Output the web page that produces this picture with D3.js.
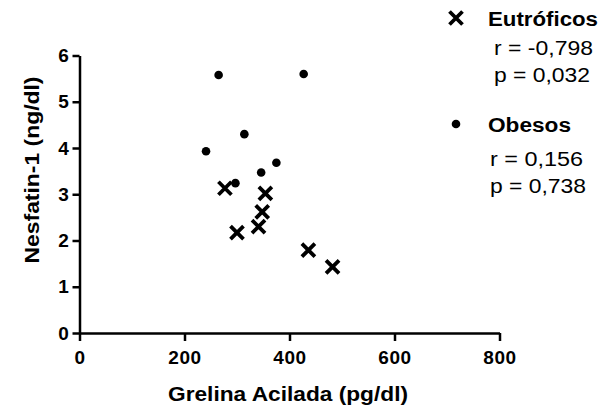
<!DOCTYPE html>
<html>
<head>
<meta charset="utf-8">
<script src="https://cdn.jsdelivr.net/npm/d3@7"></script>
<style>
  body { margin: 0; background: #fff; }
  text { font-family: Arial, 'Liberation Sans', sans-serif; fill: #000; }
</style>
</head>
<body>
<div id="chart"></div>
<script>
let eutroficosX = [277, 354, 348, 341, 300, 436, 482]
let eutroficosY = [3.13, 3.02, 2.62, 2.30, 2.17, 1.79, 1.43]
let obesosX = [265, 427, 314, 241, 375, 346, 297]
let obesosY = [5.58, 5.60, 4.30, 3.93, 3.68, 3.47, 3.24]

let xTicks = [0, 200, 400, 600, 800]
let yTicks = [0, 1, 2, 3, 4, 5, 6]
let groupNames = ['Eutróficos', 'Obesos']
let rValues = ['-0,798', '0,156']
let pValues = ['0,032', '0,738']

let width = 602
let height = 414

let svg = d3.select('#chart').append('svg')
  .attr('width', width)
  .attr('height', height)

let x = d3.scaleLinear().domain([0, 800]).range([79.5, 499.5])
let y = d3.scaleLinear().domain([0, 6]).range([333, 55.5])

let drawCross = (g, size) => {
  g.append('path')
    .attr('d', 'M' + (-size) + ',' + (-size) + 'L' + size + ',' + size + 'M' + (-size) + ',' + size + 'L' + size + ',' + (-size))
    .attr('stroke', '#000')
    .attr('stroke-width', 3.8)
    .attr('fill', 'none')
}

// axes
let xAxis = svg.append('g')
  .attr('transform', 'translate(0,' + y(0) + ')')
  .call(d3.axisBottom(x).tickValues(xTicks).tickFormat(d3.format('d')).tickSize(8).tickSizeOuter(0).tickPadding(10))
let yAxis = svg.append('g')
  .attr('transform', 'translate(' + x(0) + ',0)')
  .call(d3.axisLeft(y).tickValues(yTicks).tickFormat(d3.format('d')).tickSize(7).tickSizeOuter(0).tickPadding(3))

;[xAxis, yAxis].forEach((a) => {
  a.selectAll('path, line').attr('stroke', '#000').attr('stroke-width', 2.5)
  a.selectAll('text')
    .attr('fill', '#000')
    .style('font-size', '19px')
    .style('font-weight', 'bold')
    .style('letter-spacing', '0.6px')
})

// axis titles
svg.append('text')
  .attr('x', 288)
  .attr('y', 401)
  .attr('text-anchor', 'middle')
  .attr('textLength', 240)
  .attr('lengthAdjust', 'spacingAndGlyphs')
  .style('font-size', '20px')
  .style('font-weight', 'bold')
  .text('Grelina Acilada (pg/dl)')
svg.append('text')
  .attr('text-anchor', 'middle')
  .attr('transform', 'translate(39,170)rotate(-90)')
  .attr('textLength', 187)
  .attr('lengthAdjust', 'spacingAndGlyphs')
  .style('font-size', '20px')
  .style('font-weight', 'bold')
  .text('Nesfatin-1 (ng/dl)')

// points
let obesos = obesosX.map((v, i) => [v, obesosY[i]])
let eutroficos = eutroficosX.map((v, i) => [v, eutroficosY[i]])

svg.selectAll('circle.obeso')
  .data(obesos)
  .enter().append('circle')
  .attr('class', 'obeso')
  .attr('cx', (d) => x(d[0]))
  .attr('cy', (d) => y(d[1]))
  .attr('r', 4.3)
  .attr('fill', '#000')

svg.selectAll('g.eutrofico')
  .data(eutroficos)
  .enter().append('g')
  .attr('class', 'eutrofico')
  .attr('transform', (d) => 'translate(' + x(d[0]) + ',' + y(d[1]) + ')')
  .each(function () { drawCross(d3.select(this), 6.5) })

// legend
let legendY = [18, 124]
let legendTextLen = [110, 83]
let statLen = [[99, 96], [93, 96]]
let statX = [494, 490]
let statY = [[55, 81.5], [166, 192.5]]

groupNames.forEach((name, i) => {
  let marker = svg.append('g').attr('transform', 'translate(456,' + legendY[i] + ')')
  if (i == 0) {
    drawCross(marker, 6.5)
  } else {
    marker.append('circle').attr('r', 4.3).attr('fill', '#000')
  }
  svg.append('text')
    .attr('x', 488)
    .attr('y', legendY[i] + 8)
    .attr('textLength', legendTextLen[i])
    .attr('lengthAdjust', 'spacingAndGlyphs')
    .style('font-size', '20px')
    .style('font-weight', 'bold')
    .text(name)
  svg.append('text')
    .attr('x', statX[i])
    .attr('y', statY[i][0])
    .attr('textLength', statLen[i][0])
    .attr('lengthAdjust', 'spacingAndGlyphs')
    .style('font-size', '20px')
    .text('r = ' + rValues[i])
  svg.append('text')
    .attr('x', statX[i])
    .attr('y', statY[i][1])
    .attr('textLength', statLen[i][1])
    .attr('lengthAdjust', 'spacingAndGlyphs')
    .style('font-size', '20px')
    .text('p = ' + pValues[i])
})
</script>
</body>
</html>
